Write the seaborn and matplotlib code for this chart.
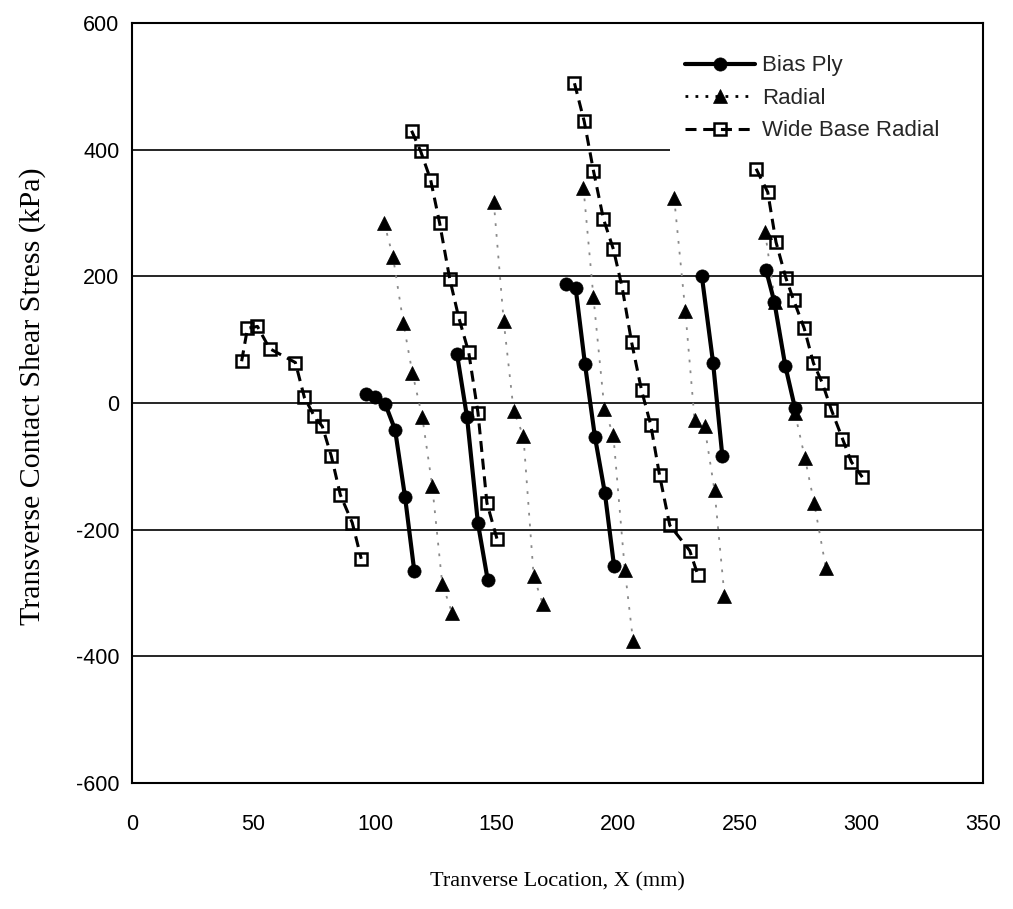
import numpy as np
import pandas as pd
import matplotlib
matplotlib.use("Agg")
import matplotlib.pyplot as plt
from matplotlib.lines import Line2D
import seaborn as sns

# Transverse contact shear stress profiles, one list per rib (x in mm, stress in kPa)
bias_x = [[96.2, 100.0, 104.1, 108.2, 112.3, 116.1],
          [133.7, 137.8, 142.3, 146.3],
          [178.4, 182.5, 186.3, 190.4, 194.5, 198.3],
          [234.4, 239.0, 242.8],
          [260.8, 264.2, 268.7, 272.7]]
bias_y = [[15, 10, -1, -42, -148, -265],
          [77, -22, -190, -279],
          [188, 181, 62, -53, -142, -258],
          [200, 64, -83],
          [210, 160, 59, -8]]

radial_x = [[103.7, 107.4, 111.6, 115.3, 119.4, 123.5, 127.6, 131.7],
            [148.8, 152.9, 157.0, 161.0, 165.2, 168.9],
            [185.7, 189.8, 194.3, 198.0, 202.7, 206.1],
            [223.0, 227.6, 231.4, 235.5, 239.6, 243.7],
            [260.4, 264.5, 272.7, 276.8, 280.6, 285.4]]
radial_y = [[285, 230, 127, 48, -22, -131, -285, -332],
            [318, 129, -13, -52, -273, -317],
            [340, 167, -9, -51, -263, -376],
            [324, 145, -27, -37, -138, -304],
            [270, 160, -16, -87, -158, -260]]

wide_x = [[45.1, 47.5, 51.6, 56.6, 67.2, 70.9, 75.0, 78.3, 82.0, 85.7, 90.6, 94.3],
          [115.0, 118.7, 122.8, 126.5, 130.7, 134.4, 138.5, 142.3, 146.0, 150.1],
          [182.0, 186.0, 189.8, 193.9, 198.0, 201.6, 205.5, 209.6, 213.4, 217.0,
           221.2, 229.4, 232.8],
          [256.7, 261.5, 264.9, 269.0, 272.1, 276.5, 280.3, 284.0, 287.7, 292.2,
           295.9, 300.4]]
wide_y = [[66, 118, 121, 86, 64, 9, -21, -37, -84, -145, -189, -246],
          [430, 398, 353, 285, 196, 135, 80, -15, -158, -214],
          [505, 445, 367, 291, 243, 183, 96, 20, -35, -114, -193, -233, -272],
          [370, 333, 254, 197, 163, 118, 63, 31, -11, -56, -93, -117]]

series_names = ["Bias Ply", "Radial", "Wide Base Radial"]
x_ticks = [0, 50, 100, 150, 200, 250, 300, 350]
y_ticks = [-600, -400, -200, 0, 200, 400, 600]


def to_frame(xs, ys):
    rows = []
    for seg, (sx, sy) in enumerate(zip(xs, ys)):
        for xv, yv in zip(sx, sy):
            rows.append({"x": xv, "y": yv, "seg": seg})
    return pd.DataFrame(rows)


sns.set_theme(style="white")
plt.rcParams["font.family"] = ["Liberation Sans", "DejaVu Sans"]

fig = plt.figure(figsize=(10.13, 9.09), dpi=100)
ax = fig.add_axes([0.1303, 0.1386, 0.840, 0.836])

styles = {
    "Bias Ply": dict(color="black", linewidth=3.0, linestyle="-", marker="o",
                     markersize=9.5, markerfacecolor="black",
                     markeredgecolor="black", markeredgewidth=0.5, zorder=4),
    "Radial": dict(color="#8a8a8a", linewidth=1.3, linestyle=(0, (1.5, 4.5)),
                   marker="^", markersize=10.5, markerfacecolor="black",
                   markeredgecolor="black", markeredgewidth=0.5, zorder=3),
    "Wide Base Radial": dict(color="black", linewidth=2.2, linestyle=(0, (3.6, 2.2)),
                             marker="s", markersize=8.0, markerfacecolor="none",
                             markeredgecolor="black", markeredgewidth=1.8, zorder=3),
}

frames = {
    "Bias Ply": to_frame(bias_x, bias_y),
    "Radial": to_frame(radial_x, radial_y),
    "Wide Base Radial": to_frame(wide_x, wide_y),
}

for name in ["Radial", "Wide Base Radial", "Bias Ply"]:
    sns.lineplot(data=frames[name], x="x", y="y", units="seg", estimator=None,
                 sort=False, ax=ax, legend=False, **styles[name])

ax.set_xlim(0, 350)
ax.set_ylim(-600, 600)
ax.set_xticks(x_ticks)
ax.set_yticks(y_ticks)
ax.set_xticklabels([str(v) for v in x_ticks])
ax.set_yticklabels([str(v) for v in y_ticks])

ax.yaxis.grid(True, color="black", linewidth=1.2)
ax.xaxis.grid(False)
ax.set_axisbelow(True)
for sp in ax.spines.values():
    sp.set_color("black")
    sp.set_linewidth(1.5)
    sp.set_zorder(2.6)

ax.tick_params(axis="y", direction="out", length=5, width=1.2, color="black",
               pad=4, labelsize=15.5, labelcolor="black")
ax.tick_params(axis="x", direction="out", length=5, width=1.2, color="black",
               pad=17, labelsize=15.5, labelcolor="black")

ax.set_xlabel("Tranverse Location, X (mm)", family=["Liberation Serif"],
              fontsize=16, color="black")
ax.set_ylabel("Transverse Contact Shear Stress (kPa)", family=["Liberation Serif"],
              fontsize=21.5, color="black")
ax.xaxis.set_label_coords(0.5, -0.118)
ax.yaxis.set_label_coords(-0.101, 0.509)

handles = []
for name in series_names:
    st = dict(styles[name])
    st.pop("zorder")
    if name == "Radial":
        st["color"] = "black"
        st["linewidth"] = 2.0
        st["linestyle"] = (0, (1, 2.6))
    handles.append(Line2D([], [], **st))

# white, borderless legend box stretched over to the right frame
leg = ax.legend(handles, series_names, loc="upper left",
                bbox_to_anchor=(0.632, 0.978, 0.39, 0.0), mode="expand",
                borderaxespad=0, frameon=True, fontsize=16, handlelength=3.15,
                handletextpad=0.3, labelspacing=0.52, borderpad=0.7)
leg.get_frame().set_facecolor("white")
leg.get_frame().set_edgecolor("none")
leg.get_frame().set_alpha(1.0)
leg.set_zorder(2.4)

fig.savefig("out.png", dpi=100, facecolor="white")
